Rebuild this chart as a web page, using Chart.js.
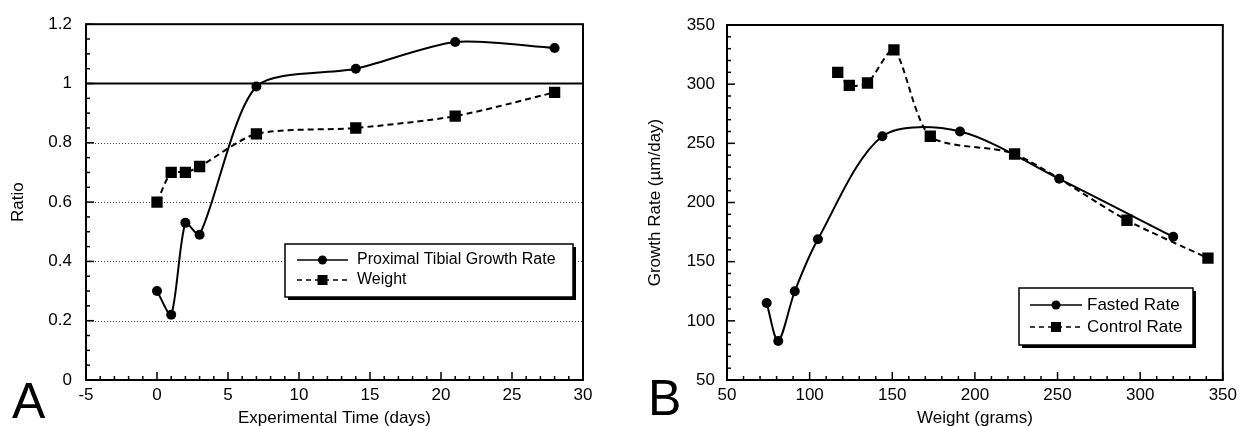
<!DOCTYPE html>
<html>
<head>
<meta charset="utf-8">
<script src="https://cdn.jsdelivr.net/npm/chart.js@4"></script>
<style>
  body { margin: 0; background: #fff; }
  #wrap { display: flex; width: 1242px; height: 426px; }
  canvas { display: block; }
</style>
</head>
<body>
<div id="wrap">
  <canvas id="chartA" width="621" height="426"></canvas>
  <canvas id="chartB" width="621" height="426"></canvas>
</div>
<script>
// Panel A - ratio vs experimental time
const daysA = [0, 1, 2, 3, 7, 14, 21, 28];
const growthRatioA = [0.30, 0.22, 0.53, 0.49, 0.99, 1.05, 1.14, 1.12];
const weightRatioA = [0.60, 0.70, 0.70, 0.72, 0.83, 0.85, 0.89, 0.97];
const ratioGridA = [0.2, 0.4, 0.6, 0.8];

// Panel B - growth rate vs weight
const fastedWeightB = [74, 81, 91, 105, 144, 191, 251, 320];
const fastedRateB = [115, 83, 125, 169, 256, 260, 220, 171];
const controlWeightB = [117, 124, 135, 151, 173, 224, 292, 341];
const controlRateB = [310, 299, 301, 329, 256, 241, 185, 153];

const FONT = '"Liberation Sans", Arial, Helvetica, sans-serif';
Chart.defaults.font.family = FONT;
Chart.defaults.color = '#000';

const toPoints = (xs, ys) => xs.map((x, i) => ({ x: x, y: ys[i] }));

// draws grid lines, inward ticks, frame, boxed legend and panel letter
const framePlugin = {
  id: 'frame',
  beforeDatasetsDraw(chart, args, opts) {
    const { ctx, chartArea: a, scales: { y } } = chart;
    ctx.save();
    ctx.strokeStyle = '#444';
    ctx.lineWidth = 1;
    ctx.setLineDash([1, 2]);
    (opts.grid || []).forEach(v => {
      const py = Math.round(y.getPixelForValue(v)) + 0.5;
      ctx.beginPath(); ctx.moveTo(a.left, py); ctx.lineTo(a.right, py); ctx.stroke();
    });
    if (opts.refLine != null) {
      ctx.setLineDash([]);
      ctx.strokeStyle = '#000';
      ctx.lineWidth = 2;
      const py = y.getPixelForValue(opts.refLine);
      ctx.beginPath(); ctx.moveTo(a.left, py); ctx.lineTo(a.right, py); ctx.stroke();
    }
    ctx.restore();
  },
  afterDraw(chart, args, opts) {
    const { ctx, chartArea: a, scales: { x, y } } = chart;
    ctx.save();
    ctx.strokeStyle = '#000';
    ctx.lineWidth = 2;
    ctx.setLineDash([]);
    ctx.strokeRect(a.left, a.top, a.right - a.left, a.bottom - a.top);

    const ticks = (scale, minor, major, draw) => {
      const n = Math.round((scale.max - scale.min) / minor);
      for (let i = 0; i <= n; i++) {
        const v = scale.min + i * minor;
        const r = v / major;
        const isMajor = Math.abs(r - Math.round(r)) < 1e-6;
        draw(scale.getPixelForValue(v), isMajor ? 8 : 4);
      }
    };
    ctx.lineWidth = 1.5;
    ticks(x, opts.xMinor, opts.xMajor, (px, len) => {
      ctx.beginPath(); ctx.moveTo(px, a.bottom); ctx.lineTo(px, a.bottom - len); ctx.stroke();
    });
    ticks(y, opts.yMinor, opts.yMajor, (py, len) => {
      ctx.beginPath(); ctx.moveTo(a.left, py); ctx.lineTo(a.left + len, py); ctx.stroke();
    });

    // legend box with drop shadow
    const L = opts.legend;
    ctx.fillStyle = '#000';
    ctx.fillRect(L.x + 3, L.y + 3, L.w, L.h);
    ctx.fillStyle = '#fff';
    ctx.fillRect(L.x, L.y, L.w, L.h);
    ctx.lineWidth = 1.5;
    ctx.strokeRect(L.x, L.y, L.w, L.h);
    ctx.font = L.fontSize + 'px ' + FONT;
    ctx.textBaseline = 'middle';
    L.items.forEach((it, i) => {
      const cy = L.y + L.rowTop + i * L.rowH;
      const x0 = L.x + L.lineFrom, x1 = L.x + L.lineTo, xm = (x0 + x1) / 2;
      ctx.strokeStyle = '#000';
      ctx.lineWidth = 1.5;
      ctx.setLineDash(it.dash);
      ctx.beginPath(); ctx.moveTo(x0, cy); ctx.lineTo(x1, cy); ctx.stroke();
      ctx.setLineDash([]);
      ctx.fillStyle = '#000';
      if (it.marker === 'circle') {
        ctx.beginPath(); ctx.arc(xm, cy, 4.5, 0, Math.PI * 2); ctx.fill();
      } else {
        ctx.fillRect(xm - 5, cy - 5, 10, 10);
      }
      ctx.fillText(it.label, L.x + L.textX, cy);
    });

    // panel letter
    ctx.font = opts.letterSize + 'px ' + FONT;
    ctx.textBaseline = 'alphabetic';
    ctx.fillText(opts.letter, opts.letterX, opts.letterY);
    ctx.restore();
  }
};

const lineSet = (label, data, dashed, style, radius, tension) => ({
  label: label,
  data: data,
  borderColor: '#000',
  backgroundColor: '#000',
  borderWidth: 2,
  borderDash: dashed ? [6, 4] : [],
  pointStyle: style,
  pointRadius: radius,
  pointBorderWidth: 0,
  tension: tension,
  fill: false
});

const axisTitle = (text) => ({
  display: true,
  text: text,
  font: { size: 17 },
  padding: { top: 0, bottom: -3 }
});

const plainNumber = v => String(+Number(v).toFixed(2));

// Panel A
new Chart(document.getElementById('chartA'), {
  type: 'line',
  data: {
    datasets: [
      lineSet('Proximal Tibial Growth Rate', toPoints(daysA, growthRatioA), false, 'circle', 5, 0.25),
      lineSet('Weight', toPoints(daysA, weightRatioA), true, 'rect', 8, 0.25)
    ]
  },
  options: {
    responsive: false,
    animation: false,
    devicePixelRatio: 1,
    layout: { padding: { left: 8, top: 24, right: 38, bottom: 0 } },
    plugins: {
      legend: { display: false },
      tooltip: { enabled: false },
      frame: {
        grid: ratioGridA, refLine: 1,
        xMinor: 1, xMajor: 5, yMinor: 0.05, yMajor: 0.2,
        letter: 'A', letterX: 12, letterY: 418, letterSize: 50,
        legend: {
          x: 285, y: 244, w: 288, h: 53, rowTop: 16, rowH: 20, fontSize: 16,
          lineFrom: 12, lineTo: 63, textX: 72,
          items: [
            { label: 'Proximal Tibial Growth Rate', dash: [], marker: 'circle' },
            { label: 'Weight', dash: [5, 4], marker: 'rect' }
          ]
        }
      }
    },
    scales: {
      x: {
        type: 'linear', min: -5, max: 30,
        grid: { display: false, drawTicks: false }, border: { display: false },
        ticks: { stepSize: 5, padding: 5, font: { size: 17 }, callback: plainNumber },
        title: axisTitle('Experimental Time (days)'),
        afterFit: s => { s.height = 46; }
      },
      y: {
        type: 'linear', min: 0, max: 1.2,
        grid: { display: false, drawTicks: false }, border: { display: false },
        ticks: { stepSize: 0.2, padding: 14, font: { size: 17 }, callback: plainNumber },
        title: axisTitle('Ratio'),
        afterFit: s => { s.width = 78; }
      }
    }
  },
  plugins: [framePlugin]
});

// Panel B
new Chart(document.getElementById('chartB'), {
  type: 'line',
  data: {
    datasets: [
      lineSet('Fasted Rate', toPoints(fastedWeightB, fastedRateB), false, 'circle', 5, 0.3),
      lineSet('Control Rate', toPoints(controlWeightB, controlRateB), true, 'rect', 8, 0.25)
    ]
  },
  options: {
    responsive: false,
    animation: false,
    devicePixelRatio: 1,
    layout: { padding: { left: 24, top: 25, right: 17, bottom: 0 } },
    plugins: {
      legend: { display: false },
      tooltip: { enabled: false },
      frame: {
        grid: [], refLine: null,
        xMinor: 10, xMajor: 50, yMinor: 10, yMajor: 50,
        letter: 'B', letterX: 27, letterY: 415, letterSize: 50,
        legend: {
          x: 398, y: 288, w: 174, h: 57, rowTop: 17, rowH: 22, fontSize: 17,
          lineFrom: 11, lineTo: 63, textX: 68,
          items: [
            { label: 'Fasted Rate', dash: [], marker: 'circle' },
            { label: 'Control Rate', dash: [5, 4], marker: 'rect' }
          ]
        }
      }
    },
    scales: {
      x: {
        type: 'linear', min: 50, max: 350,
        grid: { display: false, drawTicks: false }, border: { display: false },
        ticks: { stepSize: 50, padding: 5, font: { size: 17 } },
        title: axisTitle('Weight (grams)'),
        afterFit: s => { s.height = 46; }
      },
      y: {
        type: 'linear', min: 50, max: 350,
        grid: { display: false, drawTicks: false }, border: { display: false },
        ticks: { stepSize: 50, padding: 12, font: { size: 17 } },
        title: axisTitle('Growth Rate (µm/day)'),
        afterFit: s => { s.width = 82; }
      }
    }
  },
  plugins: [framePlugin]
});
</script>
</body>
</html>
